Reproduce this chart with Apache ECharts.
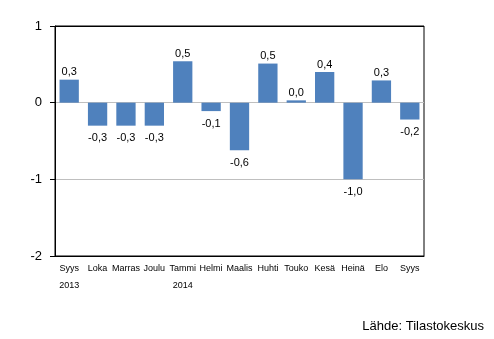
<!DOCTYPE html>
<html><head><meta charset="utf-8">
<script src="https://cdn.jsdelivr.net/npm/echarts@6/dist/echarts.min.js"></script>
<style>html,body{margin:0;padding:0;background:#fff}#c{width:494px;height:339px}</style>
</head><body><div id="c"></div>
<script>
var categories = ['Syys\n2013','Loka','Marras','Joulu','Tammi\n2014','Helmi','Maalis','Huhti','Touko','Kesä','Heinä','Elo','Syys'];
var values = [0.30,-0.30,-0.30,-0.30,0.54,-0.11,-0.62,0.51,0.03,0.40,-1.00,0.29,-0.22];
var yTicks = [-2,-1,0,1];
var FONT = '"Liberation Sans", Arial, sans-serif';
var chart = echarts.init(document.getElementById('c'));
chart.setOption({
  animation:false,
  grid:{left:55,right:70,top:26,bottom:83,show:true,borderColor:'#000',borderWidth:1,backgroundColor:'transparent'},
  graphic:[{type:'text',right:10,top:320,style:{text:'Lähde: Tilastokeskus',font:'13px '+FONT,fill:'#000'}}],
  xAxis:{type:'category',data:categories,
    axisLine:{onZero:false,lineStyle:{color:'#000',width:1}},
    axisTick:{show:false},
    axisLabel:{interval:0,fontFamily:FONT,fontSize:9,color:'#000',lineHeight:17,margin:4}},
  yAxis:{type:'value',min:-2,max:1,interval:1,
    axisLine:{show:true,lineStyle:{color:'#000'}},
    axisTick:{show:true,length:5,lineStyle:{color:'#000'}},
    axisLabel:{fontFamily:FONT,fontSize:13,color:'#000',margin:13,formatter:function(v){return yTicks.indexOf(v)>=0?String(v):'';}},
    splitLine:{show:true,lineStyle:{color:['#000','#bfbfbf','#bfbfbf','#000']}}},
  series:[{type:'bar',barWidth:'68%',itemStyle:{color:'#4f81bd'},
    data:values.map(function(v){return {value:v,label:{position:v>=0?'top':'bottom',distance:v>=0?2:7}};}),
    label:{show:true,fontFamily:FONT,fontSize:11,color:'#000',
      formatter:function(p){return p.value.toFixed(1).replace('.',',');}}}]
});
</script></body></html>
